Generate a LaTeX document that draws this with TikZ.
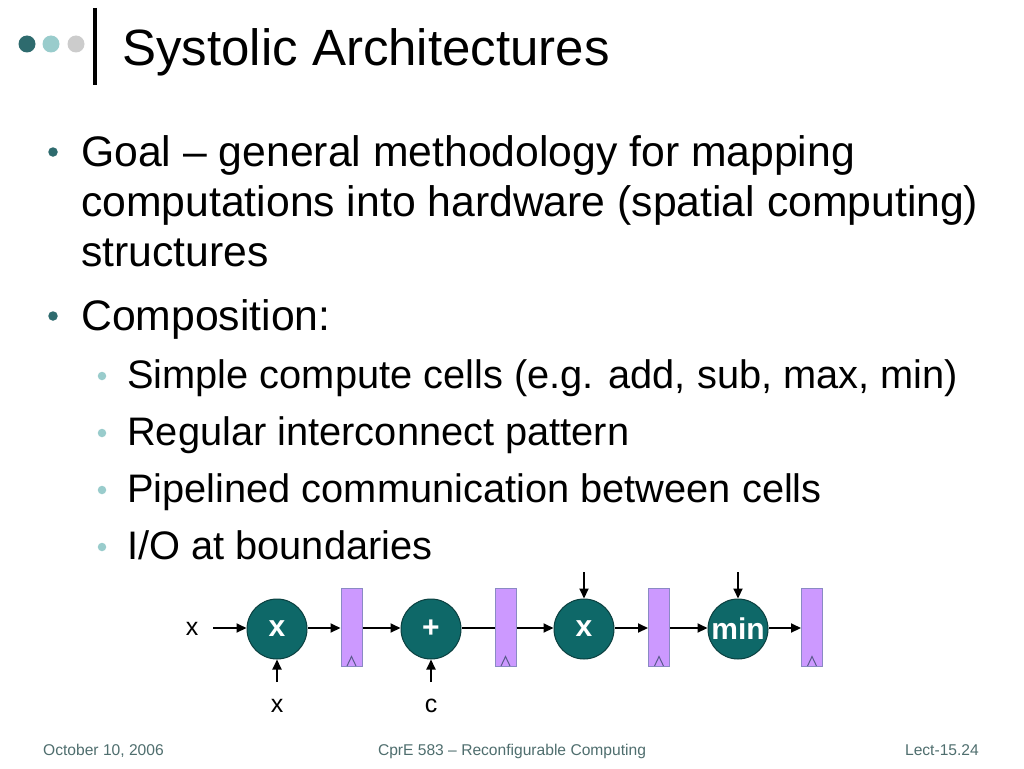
\documentclass[tikz,border=0pt]{standalone}
\usepackage{fontspec}
\setmainfont{Liberation Sans}
\usetikzlibrary{arrows.meta,calc}
\definecolor{teal1}{HTML}{2E6B6E}
\definecolor{teal2}{HTML}{99CCCC}
\definecolor{grey3}{HTML}{CCCCCC}
\definecolor{cellfill}{HTML}{0E6868}
\definecolor{cellline}{HTML}{0A3F3F}
\definecolor{regfill}{HTML}{CC99FF}
\definecolor{regline}{HTML}{8A8AC4}
\definecolor{trig}{HTML}{5A5A8C}
\definecolor{foot}{HTML}{4F6E6E}
\begin{document}
\begin{tikzpicture}[x=1pt,y=-1pt,
  titletext/.style={anchor=base west,inner sep=0pt,font=\fontsize{51}{60}\selectfont},
  maintext/.style={anchor=base west,inner sep=0pt,font=\fontsize{42.7}{50}\selectfont},
  subtext/.style={anchor=base west,inner sep=0pt,font=\fontsize{39.8}{48}\selectfont},
  mainbullet/.style={circle,fill=teal1,inner sep=0pt,minimum size=9.5pt},
  subbullet/.style={circle,fill=teal2,inner sep=0pt,minimum size=8.5pt},
  foottext/.style={anchor=base,inner sep=0pt,text=foot,font=\fontsize{15.6}{18}\selectfont},
  cell/.style={circle,draw=cellline,line width=1pt,fill=cellfill,minimum size=60pt,inner sep=0pt,text=white,font=\bfseries\fontsize{30}{32}\selectfont},
  reg/.style={rectangle,draw=regline,line width=1pt,fill=regfill,minimum width=21pt,minimum height=78pt,inner sep=0pt},
  lbl/.style={inner sep=0pt,font=\fontsize{25}{28}\selectfont},
  wire/.style={line width=2pt,draw=black},
  arr/.style={wire,-{Triangle[length=10pt,width=9pt]}},
  clk/.style={draw=trig,line width=1pt}
]
\useasboundingbox (0,0) rectangle (1024,768);
\fill[white] (0,0) rectangle (1024,768);

% title decoration
\node[circle,fill=teal1,minimum size=17pt,inner sep=0pt] (d1) at (27,44) {};
\node[circle,fill=teal2,minimum size=17pt,inner sep=0pt] (d2) at (51,44) {};
\node[circle,fill=grey3,minimum size=17pt,inner sep=0pt] (d3) at (76,44) {};
\coordinate (bartop) at (94.5,8);
\coordinate (barbot) at (94.5,85);
\draw[line width=4pt] (bartop) -- (barbot);
\node[titletext] (title) at (122,66) {Systolic Architectures};

% bullets
\node[mainbullet] (b1) at (53,152) {};
\node[maintext] (l1) at (81,166) {Goal – general methodology for mapping};
\node[maintext] (l2) at (81,216) {computations into hardware (spatial computing)};
\node[maintext] (l3) at (81,266) {structures};
\node[mainbullet] (b2) at (53,316) {};
\node[maintext] (l4) at (81,330) {Composition:};

\node[subbullet] (s1) at (102,376) {};
\node[subtext] (t1) at (127,388) {Simple compute cells (e.g. add, sub, max, min)};
\node[subbullet] (s2) at (102,433) {};
\node[subtext] (t2) at (127,445) {Regular interconnect pattern};
\node[subbullet] (s3) at (102,490) {};
\node[subtext] (t3) at (127,502) {Pipelined communication between cells};
\node[subbullet] (s4) at (102,547) {};
\node[subtext] (t4) at (127,559) {I/O at boundaries};

% diagram
\node[cell] (c1) at (277,629) {x};
\node[cell] (c2) at (431,629) {+};
\node[cell] (c3) at (584,629) {x};
\node[cell] (c4) at (738,629) {min};
\node[reg] (r1) at (351.5,627) {};
\node[reg] (r2) at (505.5,627) {};
\node[reg] (r3) at (659,627) {};
\node[reg] (r4) at (812,627) {};
\foreach \r in {r1,r2,r3,r4}{
  \draw[clk] ($(\r.south)+(-4.5,-0.5)$) -- ($(\r.south)+(0,-10)$) -- ($(\r.south)+(4.5,-0.5)$);
}

\node[lbl] (xin) at (192,629) {x};
\node[lbl] (xb) at (277,706) {x};
\node[lbl] (cb) at (431,706) {c};
\coordinate (xinend) at (213,628);
\coordinate (xbtop) at (277,682);
\coordinate (cbtop) at (431,682);
\coordinate (t3) at (584,572);
\coordinate (t4) at (738,572);

\draw[arr] (xinend) -- (c1.west |- xinend);
\draw[arr] (c1.east |- xinend) -- (r1.west |- xinend);
\draw[arr] (r1.east |- xinend) -- (c2.west |- xinend);
\draw[wire] (c2.east |- xinend) -- (r2.west |- xinend);
\draw[arr] (r2.east |- xinend) -- (c3.west |- xinend);
\draw[arr] (c3.east |- xinend) -- (r3.west |- xinend);
\draw[arr] (r3.east |- xinend) -- (c4.west |- xinend);
\draw[arr] (c4.east |- xinend) -- (r4.west |- xinend);
\draw[arr] (xbtop) -- (c1.south);
\draw[arr] (cbtop) -- (c2.south);
\draw[arr] (t3) -- (c3.north);
\draw[arr] (t4) -- (c4.north);

% footer
\node[foottext,anchor=base west] (f1) at (43,755) {October 10, 2006};
\node[foottext] (f2) at (512,755) {CprE 583 – Reconfigurable Computing};
\node[foottext,anchor=base east] (f3) at (979,755) {Lect-15.24};
\end{tikzpicture}
\end{document}
